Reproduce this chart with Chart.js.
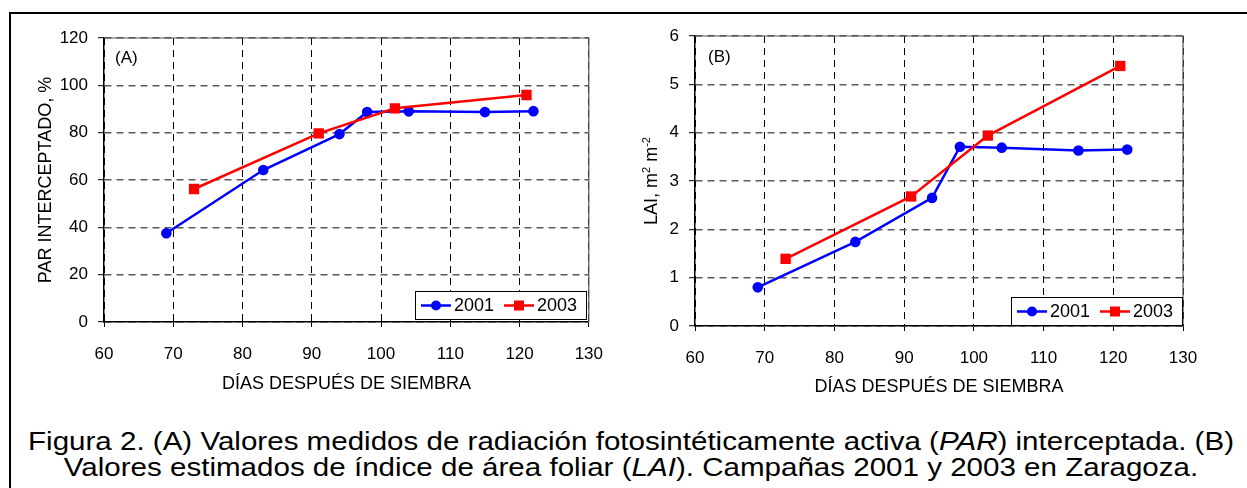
<!DOCTYPE html>
<html>
<head>
<meta charset="utf-8">
<script src="https://cdn.jsdelivr.net/npm/chart.js@4.4.1/dist/chart.umd.min.js"></script>
<style>
  body { margin: 0; background: #fff; width: 1247px; height: 488px; overflow: hidden; position: relative;
         font-family: 'Liberation Sans', Arial, sans-serif; }
  #frame { position: absolute; left: 9px; top: 12px; width: 1260px; height: 500px;
           border-left: 2px solid #000; border-top: 2px solid #000; }
  #wrapA { position: absolute; left: 0; top: 0; width: 620px; height: 400px; }
  #wrapB { position: absolute; left: 600px; top: 0; width: 647px; height: 400px; }
  .cap { position: absolute; left: 0; width: 1262px; text-align: center; font-size: 26px;
         line-height: 26px; white-space: nowrap; color: #000; transform-origin: 50% 75%; }
  .cap span { display: inline-block; }
</style>
</head>
<body>
<div id="frame"></div>
<div id="wrapA"><canvas id="chartA" width="620" height="400"></canvas></div>
<div id="wrapB"><canvas id="chartB" width="647" height="400"></canvas></div>
<div class="cap" id="cap1" style="top:427px"><span id="line1">Figura 2. (A) Valores medidos de radiación fotosintéticamente activa (<i>PAR</i>) interceptada. (B)</span></div>
<div class="cap" id="cap2" style="top:453px"><span>Valores estimados de índice de área foliar (<i>LAI</i>). Campañas 2001 y 2003 en Zaragoza.</span></div>
<script>
// ---- data ----
const seriesNames = ['2001', '2003'];
const days2001 = [69, 83, 94, 98, 104, 115, 122];
const days2003 = [73, 91, 102, 121];
const par2001 = [37.5, 64.2, 79.4, 88.7, 89.0, 88.7, 89.1];
const par2003 = [56.2, 79.7, 90.3, 95.9];
const lai2001 = [0.80, 1.74, 2.65, 3.71, 3.69, 3.63, 3.65];
const lai2003 = [1.39, 2.68, 3.94, 5.38];
const dayTicks = [60, 70, 80, 90, 100, 110, 120, 130];
const parTicks = [0, 20, 40, 60, 80, 100, 120];
const laiTicks = [0, 1, 2, 3, 4, 5, 6];

Chart.defaults.font.family = "'Liberation Sans', Arial, sans-serif";
Chart.defaults.color = '#000';

// scale the caption so the first line spans the same width as in the figure,
// then stretch it a little vertically (the original glyphs are taller)
(function fitCaption() {
  const w = document.getElementById('line1').offsetWidth;
  const size = 26 * 1206 / w;
  const sy = 19 / (0.716 * size);
  document.querySelectorAll('.cap').forEach(el => {
    el.style.fontSize = size + 'px';
    el.style.transform = 'scaleY(' + sy + ')';
  });
})();

const toPoints = (xs, ys) => xs.map((x, i) => ({ x, y: ys[i] }));

// plot-area frame on the top and right sides
const plotFrame = {
  id: 'plotFrame',
  beforeDatasetsDraw(chart) {
    const { ctx, chartArea: a } = chart;
    ctx.save();
    ctx.strokeStyle = '#555';
    ctx.lineWidth = 1.2;
    ctx.beginPath();
    ctx.moveTo(a.left, a.top);
    ctx.lineTo(a.right, a.top);
    ctx.lineTo(a.right, a.bottom);
    ctx.stroke();
    ctx.restore();
  }
};

// boxed legend in the lower right corner of the plot area
const boxLegend = {
  id: 'boxLegend',
  afterDraw(chart, args, opts) {
    const { ctx, chartArea: a } = chart;
    const w = 171, h = 28;
    const x0 = Math.round(a.right - opts.dx - w), y0 = Math.round(a.bottom - opts.dy - h);
    ctx.save();
    ctx.fillStyle = '#fff';
    ctx.fillRect(x0, y0, w, h);
    ctx.strokeStyle = '#000';
    ctx.lineWidth = 1;
    ctx.strokeRect(x0 + 0.5, y0 + 0.5, w, h);
    const cy = y0 + h / 2 + 0.5;
    chart.data.datasets.forEach((ds, i) => {
      const sx = x0 + 6 + i * 83;
      ctx.strokeStyle = ds.borderColor;
      ctx.lineWidth = ds.borderWidth;
      ctx.beginPath();
      ctx.moveTo(sx, cy);
      ctx.lineTo(sx + 30, cy);
      ctx.stroke();
      ctx.fillStyle = ds.pointBackgroundColor;
      if (ds.pointStyle === 'rect') {
        ctx.fillRect(sx + 10, cy - 5, 10, 10);
      } else {
        ctx.beginPath();
        ctx.arc(sx + 15, cy, 5, 0, Math.PI * 2);
        ctx.fill();
      }
      ctx.fillStyle = '#000';
      ctx.font = "18px 'Liberation Sans', Arial, sans-serif";
      ctx.textBaseline = 'middle';
      ctx.textAlign = 'left';
      ctx.fillText(ds.label, sx + 33, cy + 1);
    });
    ctx.restore();
  }
};

// panel letter and optional hand-set y title (for superscripts)
const panelText = {
  id: 'panelText',
  afterDraw(chart, args, opts) {
    const { ctx, chartArea: a } = chart;
    ctx.save();
    ctx.fillStyle = '#000';
    ctx.font = "17px 'Liberation Sans', Arial, sans-serif";
    ctx.textBaseline = 'alphabetic';
    ctx.fillText(opts.label, a.left + opts.dx, a.top + opts.dy);
    if (opts.yTitle) {
      const big = "18px 'Liberation Sans', Arial, sans-serif";
      const small = "11px 'Liberation Sans', Arial, sans-serif";
      const parts = opts.yTitle;
      let total = 0;
      parts.forEach(p => { ctx.font = p.sup ? small : big; total += ctx.measureText(p.t).width; });
      ctx.translate(opts.yTitleX, (a.top + a.bottom) / 2);
      ctx.rotate(-Math.PI / 2);
      let x = -total / 2;
      parts.forEach(p => {
        ctx.font = p.sup ? small : big;
        ctx.fillText(p.t, x, p.sup ? -7 : 0);
        x += ctx.measureText(p.t).width;
      });
    }
    ctx.restore();
  }
};

function makeDatasets(y2001, y2003) {
  return [
    {
      label: seriesNames[0],
      data: toPoints(days2001, y2001),
      borderColor: '#0000ff',
      backgroundColor: '#0000ff',
      pointBackgroundColor: '#0000ff',
      pointBorderWidth: 0,
      pointStyle: 'circle',
      pointRadius: 5.3,
      borderWidth: 2.5,
      showLine: true,
      order: 2
    },
    {
      label: seriesNames[1],
      data: toPoints(days2003, y2003),
      borderColor: '#ff0000',
      backgroundColor: '#ff0000',
      pointBackgroundColor: '#ff0000',
      pointBorderWidth: 0,
      pointStyle: 'rect',
      pointRadius: 7.3,
      borderWidth: 2.5,
      showLine: true,
      order: 1
    }
  ];
}

function xScale(height, titlePad) {
  return {
    type: 'linear',
    min: dayTicks[0],
    max: dayTicks[dayTicks.length - 1],
    afterBuildTicks: s => { s.ticks = dayTicks.map(v => ({ value: v })); },
    afterFit: s => { s.height = height; },
    ticks: { font: { size: 17 }, color: '#000', padding: 17, maxRotation: 0 },
    grid: { color: '#000', lineWidth: 1, tickLength: 5, tickColor: '#000', tickBorderDash: [] },
    border: { display: true, color: '#000', width: 1.5, dash: [7, 5] },
    title: { display: true, text: 'DÍAS DESPUÉS DE SIEMBRA', font: { size: 18 }, color: '#000',
             padding: { top: 0, bottom: titlePad } }
  };
}

function yScale(ticks, width, title) {
  return {
    type: 'linear',
    min: ticks[0],
    max: ticks[ticks.length - 1],
    afterBuildTicks: s => { s.ticks = ticks.map(v => ({ value: v })); },
    afterFit: s => { s.width = width; },
    ticks: { font: { size: 17 }, color: '#000', padding: 10 },
    grid: { color: '#5a5a5a', lineWidth: 1.4, tickLength: 6, tickColor: '#000', tickWidth: 1, tickBorderDash: [] },
    border: { display: true, color: '#000', width: 1.5, dash: [7, 5] },
    title: title
  };
}

new Chart(document.getElementById('chartA'), {
  type: 'scatter',
  data: { datasets: makeDatasets(par2001, par2003) },
  options: {
    responsive: false,
    animation: false,
    layout: { padding: { left: 0, top: 38, right: 29, bottom: 0 } },
    plugins: {
      legend: { display: false },
      tooltip: { enabled: false },
      boxLegend: { dx: 3, dy: 3 },
      panelText: { label: '(A)', dx: 11, dy: 25 }
    },
    scales: {
      x: xScale(78, 5.4),
      y: yScale(parTicks, 104, { display: true, text: 'PAR INTERCEPTADO, %', font: { size: 18 }, color: '#000',
                                 padding: { top: 35, bottom: 0 } })
    }
  },
  plugins: [plotFrame, boxLegend, panelText]
});

new Chart(document.getElementById('chartB'), {
  type: 'scatter',
  data: { datasets: makeDatasets(lai2001, lai2003) },
  options: {
    responsive: false,
    animation: false,
    layout: { padding: { left: 0, top: 36, right: 64, bottom: 0 } },
    plugins: {
      legend: { display: false },
      tooltip: { enabled: false },
      boxLegend: { dx: 1, dy: 1 },
      panelText: {
        label: '(B)', dx: 13, dy: 26, yTitleX: 57,
        yTitle: [{ t: 'LAI, m' }, { t: '2', sup: true }, { t: ' m' }, { t: '-2', sup: true }]
      }
    },
    scales: {
      x: xScale(74, 2.4),
      y: yScale(laiTicks, 95, { display: false })
    }
  },
  plugins: [plotFrame, boxLegend, panelText]
});
</script>
</body>
</html>
